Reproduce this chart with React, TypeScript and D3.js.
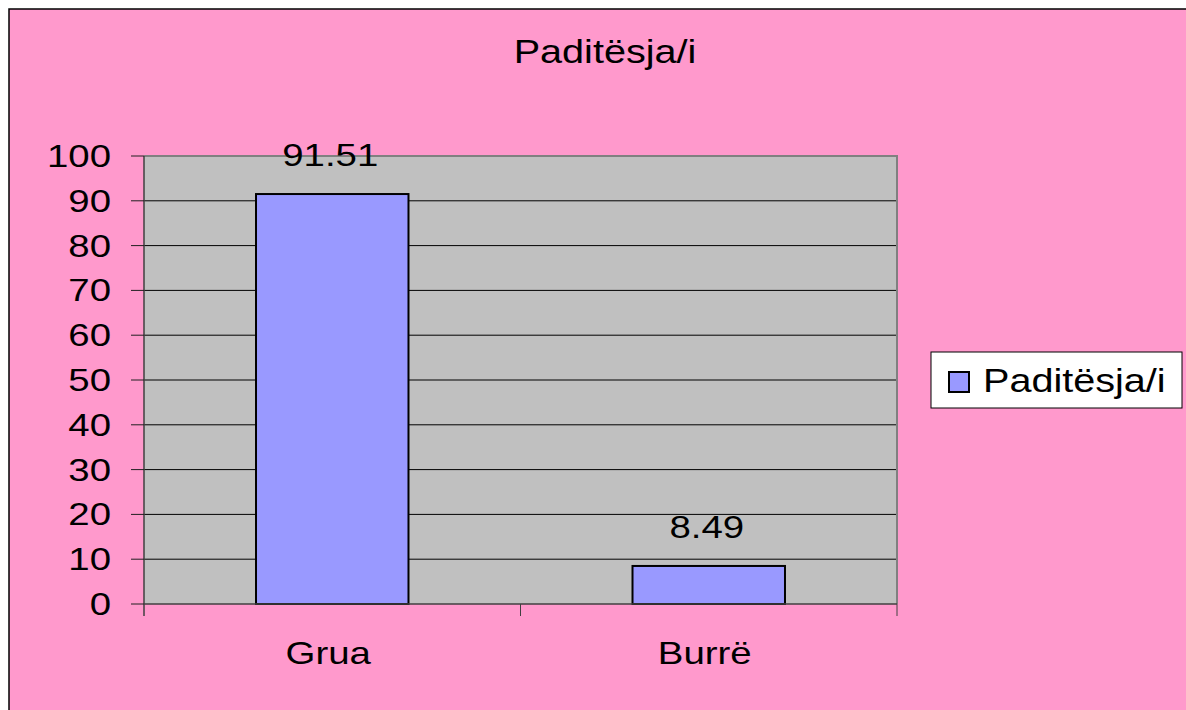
import React from 'react'
import * as d3 from 'd3'

const title = 'Paditësja/i'
const categories = ['Grua', 'Burrë']
const values = [91.51, 8.49]
const yTicks = [0, 10, 20, 30, 40, 50, 60, 70, 80, 90, 100]

const FONT = '"Liberation Sans", Arial, sans-serif'
const SX = 1.2 // the original picture is stretched a bit horizontally

const Txt = ({ x, y, size, anchor, children }: any) => (
  <text
    transform={`translate(${x},${y}) scale(${SX},1)`}
    fontFamily={FONT}
    fontSize={size}
    textAnchor={anchor}
    fill="#000"
  >
    {children}
  </text>
)

export default function App() {
  const plot = { left: 144, right: 897, top: 156, bottom: 604 }

  const x = d3.scaleBand<string>().domain(categories).range([plot.left, plot.right]).padding(0)
  const y = d3.scaleLinear().domain([0, 100]).range([plot.bottom, plot.top])
  const barW = x.bandwidth() * 0.405

  return (
    <svg
      width={1186}
      height={710}
      style={{ position: 'absolute', left: 0, top: 0, display: 'block' }}
    >
      <rect x={0} y={0} width={1186} height={710} fill="#fff" />
      {/* chart area, runs off the page at right and bottom */}
      <rect x={9} y={9} width={1200} height={720} fill="#FF99CC" stroke="#000" strokeWidth={1.5} />

      {/* plot area */}
      <rect
        x={plot.left}
        y={plot.top}
        width={plot.right - plot.left}
        height={plot.bottom - plot.top}
        fill="#C0C0C0"
      />
      {/* grid */}
      {yTicks.filter(t => t > 0 && t < 100).map(t => (
        <line key={t} x1={plot.left} x2={plot.right} y1={y(t)} y2={y(t)} stroke="#000" strokeWidth={1} />
      ))}
      {/* frame top & right */}
      <path
        d={`M${plot.left},${plot.top}H${plot.right}V${plot.bottom}`}
        fill="none"
        stroke="#808080"
        strokeWidth={2}
      />

      {/* bars */}
      {categories.map((c, i) => (
        <rect
          key={c}
          x={x(c)! + x.bandwidth() / 2 - barW / 2}
          y={y(values[i])}
          width={barW}
          height={y(0) - y(values[i])}
          fill="#9999FF"
          stroke="#000"
          strokeWidth={2}
        />
      ))}

      {/* axes */}
      <line x1={plot.left} x2={plot.left} y1={plot.top} y2={plot.bottom + 12} stroke="#404040" strokeWidth={1.5} />
      <line x1={plot.left} x2={plot.right} y1={plot.bottom} y2={plot.bottom} stroke="#404040" strokeWidth={1.5} />
      {yTicks.map(t => (
        <line key={t} x1={plot.left - 13} x2={plot.left} y1={y(t)} y2={y(t)} stroke="#202020" strokeWidth={1} />
      ))}
      {categories.map(c => (
        <line
          key={c}
          x1={x(c)! + x.bandwidth()}
          x2={x(c)! + x.bandwidth()}
          y1={plot.bottom}
          y2={plot.bottom + 12}
          stroke="#404040"
          strokeWidth={1}
        />
      ))}

      {/* tick labels */}
      {yTicks.map(t => (
        <Txt key={t} x={111} y={y(t) + 11} size={32} anchor="end">{t}</Txt>
      ))}
      {categories.map(c => (
        <Txt key={c} x={x(c)! + x.bandwidth() / 2 - 4} y={664} size={32} anchor="middle">{c}</Txt>
      ))}

      {/* data labels */}
      {categories.map((c, i) => (
        <Txt key={c} x={x(c)! + x.bandwidth() / 2 - 2} y={y(values[i]) - 28} size={32} anchor="middle">
          {d3.format('.2f')(values[i])}
        </Txt>
      ))}

      {/* title */}
      <Txt x={605} y={63} size={33} anchor="middle">{title}</Txt>

      {/* legend */}
      <rect x={931} y={352} width={251} height={56} fill="#fff" stroke="#000" strokeWidth={1} />
      <rect x={949} y={372} width={20} height={20} fill="#9999FF" stroke="#000" strokeWidth={2} />
      <Txt x={983} y={392} size={33} anchor="start">{title}</Txt>
    </svg>
  )
}
